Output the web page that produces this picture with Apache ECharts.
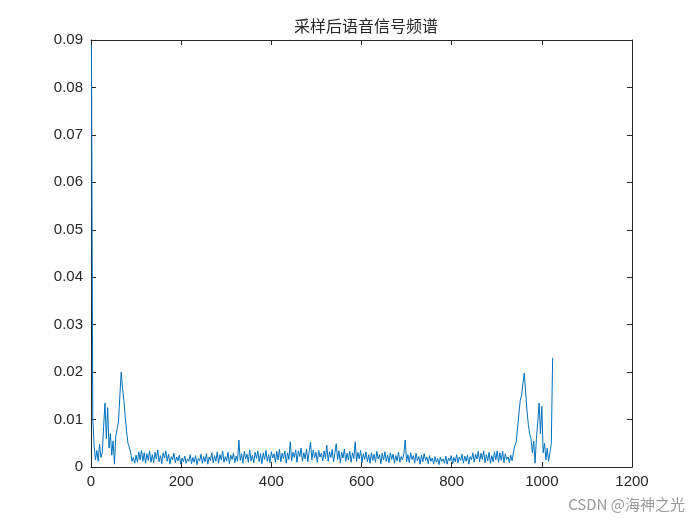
<!DOCTYPE html>
<html>
<head>
<meta charset="utf-8">
<script src="https://cdn.jsdelivr.net/npm/echarts@6/dist/echarts.min.js"></script>
<style>
  html, body { margin: 0; padding: 0; background: #fff; }
  #main { width: 700px; height: 525px; }
</style>
</head>
<body>
<div id="main"></div>
<script>
// 采样后语音信号频谱: |X(n)|, sampled every 3rd bin starting at n = 1
var binStart = 1;
var binStep = 3;
var lowBand = [
  0.0890, 0.0100, 0.0045, 0.0015, 0.0035, 0.0012, 0.0048, 0.0020, 0.0030, 0.0085,
  0.0135, 0.0060, 0.0125, 0.0040, 0.0070, 0.0025, 0.0055, 0.0006, 0.0065, 0.0080,
  0.0095, 0.0150, 0.0200, 0.0165, 0.0140, 0.0105, 0.0075, 0.0050, 0.0042, 0.0030,
  0.0012, 0.0020, 0.0008, 0.0025, 0.0010, 0.0032, 0.0015, 0.0035, 0.0012, 0.0030,
  0.0008, 0.0028, 0.0014, 0.0034, 0.0010
];
var midLeft = [
  0.0026, 0.0009, 0.0031, 0.0017, 0.0036, 0.0011, 0.0024, 0.0007, 0.0030, 0.0019,
  0.0034, 0.0012, 0.0027, 0.0006, 0.0022, 0.0015, 0.0029, 0.0009, 0.0021, 0.0013,
  0.0025, 0.0006, 0.0019, 0.0011, 0.0023, 0.0008, 0.0017, 0.0012, 0.0026, 0.0007,
  0.0020, 0.0010, 0.0024, 0.0005, 0.0018, 0.0013, 0.0027, 0.0008, 0.0022, 0.0011,
  0.0028, 0.0006, 0.0021, 0.0014, 0.0030, 0.0009, 0.0024, 0.0012, 0.0032, 0.0008,
  0.0026, 0.0015, 0.0034, 0.0010, 0.0022, 0.0013, 0.0031, 0.0007, 0.0025, 0.0016,
  0.0029, 0.0009, 0.0023, 0.0012, 0.0057, 0.0014, 0.0028, 0.0008, 0.0033, 0.0017,
  0.0027, 0.0010, 0.0036, 0.0013, 0.0025, 0.0009, 0.0031, 0.0018, 0.0034, 0.0011,
  0.0028, 0.0007, 0.0030, 0.0016, 0.0035, 0.0012, 0.0026, 0.0009, 0.0032, 0.0019,
  0.0028, 0.0010, 0.0033, 0.0015, 0.0037, 0.0011, 0.0029, 0.0018, 0.0034, 0.0008,
  0.0030, 0.0016, 0.0053, 0.0013, 0.0031, 0.0020, 0.0036, 0.0010, 0.0034, 0.0022,
  0.0040, 0.0012, 0.0030, 0.0017, 0.0038, 0.0011, 0.0033, 0.0052, 0.0015, 0.0036,
  0.0019, 0.0031, 0.0010, 0.0035, 0.0021, 0.0029
];
var midRight = [
  0.0013, 0.0034, 0.0018, 0.0046, 0.0012, 0.0032, 0.0020, 0.0037, 0.0011, 0.0030,
  0.0049, 0.0016, 0.0034, 0.0009, 0.0031, 0.0019, 0.0038, 0.0012, 0.0029, 0.0015,
  0.0033, 0.0010, 0.0030, 0.0018, 0.0053, 0.0012, 0.0031, 0.0017, 0.0035, 0.0009,
  0.0028, 0.0016, 0.0032, 0.0011, 0.0026, 0.0008, 0.0030, 0.0014, 0.0027, 0.0010,
  0.0033, 0.0017, 0.0026, 0.0007, 0.0029, 0.0015, 0.0032, 0.0012, 0.0025, 0.0009,
  0.0030, 0.0016, 0.0027, 0.0008, 0.0024, 0.0013, 0.0031, 0.0010, 0.0022, 0.0015,
  0.0028, 0.0057, 0.0011, 0.0026, 0.0009, 0.0030, 0.0016, 0.0024, 0.0008, 0.0029,
  0.0013, 0.0022, 0.0006, 0.0025, 0.0011, 0.0028, 0.0014, 0.0021, 0.0007, 0.0024,
  0.0012, 0.0019, 0.0006, 0.0022, 0.0010, 0.0018, 0.0005, 0.0021, 0.0012, 0.0017,
  0.0008, 0.0023, 0.0006, 0.0019, 0.0013, 0.0024, 0.0007, 0.0020, 0.0011, 0.0026,
  0.0009, 0.0021, 0.0014, 0.0027, 0.0008, 0.0023, 0.0012, 0.0025, 0.0006, 0.0022,
  0.0015, 0.0030, 0.0010, 0.0027, 0.0017, 0.0033, 0.0011, 0.0029, 0.0016, 0.0034,
  0.0009, 0.0026, 0.0013, 0.0031, 0.0008, 0.0024, 0.0011, 0.0032
];
var highBand = [
  0.0015, 0.0034, 0.0010, 0.0030, 0.0014, 0.0033, 0.0009, 0.0028, 0.0016, 0.0021,
  0.0009, 0.0025, 0.0013, 0.0031, 0.0045, 0.0052, 0.0080, 0.0110, 0.0140, 0.0150,
  0.0175, 0.0198, 0.0160, 0.0120, 0.0090, 0.0070, 0.0060, 0.0030, 0.0055, 0.0008,
  0.0060, 0.0095, 0.0135, 0.0070, 0.0128, 0.0030, 0.0050, 0.0015, 0.0040, 0.0012,
  0.0030, 0.0050, 0.0230
];
var xTicks = [0, 200, 400, 600, 800, 1000, 1200];
var yTicks = [0, 0.01, 0.02, 0.03, 0.04, 0.05, 0.06, 0.07, 0.08, 0.09];

var amp = lowBand.concat(midLeft, midRight, highBand);
var points = amp.map(function (v, i) { return [binStart + i * binStep, v]; });

var axisColor = '#262626';
var labelFont = { fontFamily: 'Liberation Sans', fontSize: 15, color: axisColor };

function boxAxis(extra) {
  return Object.assign({
    type: 'value',
    axisLine: { show: true, onZero: false, lineStyle: { color: axisColor, width: 1 } },
    axisTick: { show: true, inside: true, length: 5, lineStyle: { color: axisColor } },
    splitLine: { show: false }
  }, extra);
}

var chart = echarts.init(document.getElementById('main'));
chart.setOption({
  animation: false,
  backgroundColor: '#fff',
  title: {
    text: '采样后语音信号频谱',
    left: 361, top: 13, textAlign: 'center',
    textStyle: { fontFamily: 'Noto Sans CJK SC', fontSize: 16, fontWeight: 'normal', color: axisColor }
  },
  grid: { left: 91, right: 68, top: 40, bottom: 58 },
  xAxis: [
    boxAxis({
      position: 'bottom', min: xTicks[0], max: xTicks[xTicks.length - 1], interval: 200,
      axisLabel: Object.assign({ margin: 7, formatter: function (v) { return String(v); } }, labelFont)
    }),
    boxAxis({
      position: 'top', min: xTicks[0], max: xTicks[xTicks.length - 1], interval: 200,
      axisLabel: { show: false }
    })
  ],
  yAxis: [
    boxAxis({
      position: 'left', min: yTicks[0], max: yTicks[yTicks.length - 1], interval: 0.01,
      axisLabel: Object.assign({
        margin: 8,
        formatter: function (v) { return v === 0 ? '0' : v.toFixed(2); }
      }, labelFont)
    }),
    boxAxis({
      position: 'right', min: yTicks[0], max: yTicks[yTicks.length - 1], interval: 0.01,
      axisLabel: { show: false }
    })
  ],
  series: [{
    type: 'line',
    xAxisIndex: 0,
    yAxisIndex: 0,
    data: points,
    showSymbol: false,
    lineStyle: { color: '#0072BD', width: 1 },
    itemStyle: { color: '#0072BD' }
  }],
  graphic: [{
    type: 'text', right: 15, top: 497,
    style: { text: 'CSDN @海神之光', fontFamily: 'Noto Sans CJK SC', fontSize: 15, fill: '#9a9a9a' }
  }]
});
</script>
</body>
</html>
